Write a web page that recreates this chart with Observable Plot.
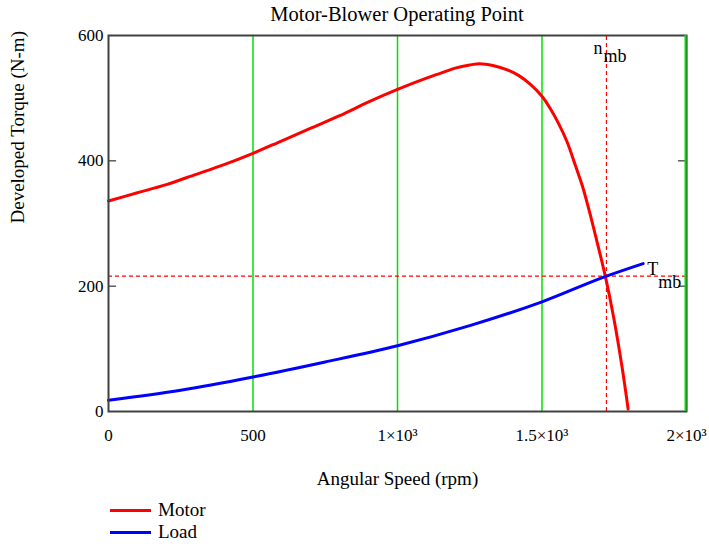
<!DOCTYPE html>
<html><head><meta charset="utf-8">
<script src="https://cdn.jsdelivr.net/npm/d3@7"></script>
<script src="https://cdn.jsdelivr.net/npm/@observablehq/plot@0.6"></script>
<style>
body{margin:0;background:#fff;font-family:"Liberation Serif","Times New Roman",serif;color:#000;}
#wrap{position:relative;width:709px;height:544px;overflow:hidden;}
#title{position:absolute;left:0;top:3px;width:709px;padding-left:85px;box-sizing:border-box;text-align:center;font-size:20.5px;line-height:22px;}
#chart{position:absolute;left:0;top:24px;}
.leg{position:absolute;left:110px;font-size:19px;line-height:22px;display:flex;align-items:center;height:22px;}
.leg .sw{display:inline-block;width:41px;height:0;border-top:3px solid;margin-right:7px;}
</style></head>
<body><div id="wrap">
<div id="title">Motor-Blower Operating Point</div>
<div id="chart"></div>
<div class="leg" style="top:499px"><span class="sw" style="border-color:#ff0000"></span>Motor</div>
<div class="leg" style="top:521px"><span class="sw" style="border-color:#0000ff"></span>Load</div>
</div>
<script>
const motorSpeed  = [0,100,200,300,400,500,600,700,800,900,1000,1100,1150,1200,1250,1285,1330,1380,1420,1460,1500,1529,1558,1587,1616,1639,1662,1685,1720,1748,1777,1798];
const motorTorque = [336,349,362,378,394,412,432,452,472,494,514,532,540,548,553,555,552,545,536,522,503,483,459,430,392,361,323,281,214,150,71,4];
const loadSpeed  = [0,250,500,750,1000,1250,1500,1723,1850];
const loadTorque = [18,34,55,79,105,137,175,216,236];
const nmb = 1723;
const Tmb = 216;
const gridX = [500,1000,1500,2000];
const xTickValues = [0,500,1000,1500,2000];
const xTickLabels = ["0","500","1×10³","1.5×10³","2×10³"];
const yTickValues = [0,200,400,600];
const yInnerTicks = [200,400];

const motor = motorSpeed.map((x,i)=>({x, y: motorTorque[i]}));
const load = loadSpeed.map((x,i)=>({x, y: loadTorque[i]}));

const font = '"Liberation Serif","Times New Roman",serif';
const chart = Plot.plot({
  width: 709, height: 470,
  marginLeft: 108, marginRight: 23, marginTop: 11, marginBottom: 83,
  style: {fontFamily: font, fontSize: "17px", color: "#000", background: "transparent", overflow: "visible"},
  x: {domain: [0, 2000]},
  y: {domain: [0, 600]},
  marks: [
    Plot.ruleX(gridX, {x: d => d, stroke: "#00e000", strokeWidth: 1.5}),
    Plot.ruleY(yInnerTicks, {y: d => d, x1: () => 0, x2: () => 28, stroke: "#333", strokeWidth: 1.2}),
    Plot.ruleY(yInnerTicks, {y: d => d, x1: () => 1972, x2: () => 2000, stroke: "#333", strokeWidth: 1.2}),
    Plot.ruleY([Tmb], {y: d => d, x1: () => 0, x2: () => 2000, stroke: "#ff0000", strokeWidth: 1.2, strokeDasharray: "4,3"}),
    Plot.ruleX([nmb], {x: d => d, y1: () => 0, y2: () => 600, stroke: "#ff0000", strokeWidth: 1.2, strokeDasharray: "4,3"}),
    Plot.line(motor, {x: "x", y: "y", stroke: "#ff0000", strokeWidth: 3, curve: "catmull-rom"}),
    Plot.line(load, {x: "x", y: "y", stroke: "#0000ff", strokeWidth: 3, curve: "monotone-x"}),
    Plot.frame({stroke: "#404040", strokeWidth: 2}),
    Plot.ruleX([2000], {x: d => d, dx: -1, stroke: "#00e000", strokeWidth: 2}),
    Plot.axisX(xTickValues, {tickSize: 0, tickPadding: 17, label: null, tickFormat: d => xTickLabels[xTickValues.indexOf(d)], fontSize: 17}),
    Plot.axisY(yTickValues, {tickSize: 0, tickPadding: 5, label: null, fontSize: 17}),
    Plot.text(["Angular Speed (rpm)"], {frameAnchor: "bottom", dy: 67, lineAnchor: "middle", fontSize: 19}),
    Plot.text(["Developed Torque (N-m)"], {frameAnchor: "left", dx: -91, rotate: -90, lineAnchor: "middle", fontSize: 19}),
    Plot.text([nmb], {x: d => d, y: () => 600, text: () => "n", textAnchor: "end", dx: -4, dy: 13, lineAnchor: "middle", fontSize: 18}),
    Plot.text([nmb], {x: d => d, y: () => 600, text: () => "mb", textAnchor: "start", dx: -3, dy: 21, lineAnchor: "middle", fontSize: 18}),
    Plot.text([Tmb], {x: () => loadSpeed[loadSpeed.length-1], y: d => d, text: () => "T", textAnchor: "start", dx: 4, dy: -7, lineAnchor: "middle", fontSize: 18}),
    Plot.text([Tmb], {x: () => loadSpeed[loadSpeed.length-1], y: d => d, text: () => "mb", textAnchor: "start", dx: 15, dy: 6, lineAnchor: "middle", fontSize: 18})
  ]
});
document.getElementById("chart").appendChild(chart);
</script>
</body></html>
